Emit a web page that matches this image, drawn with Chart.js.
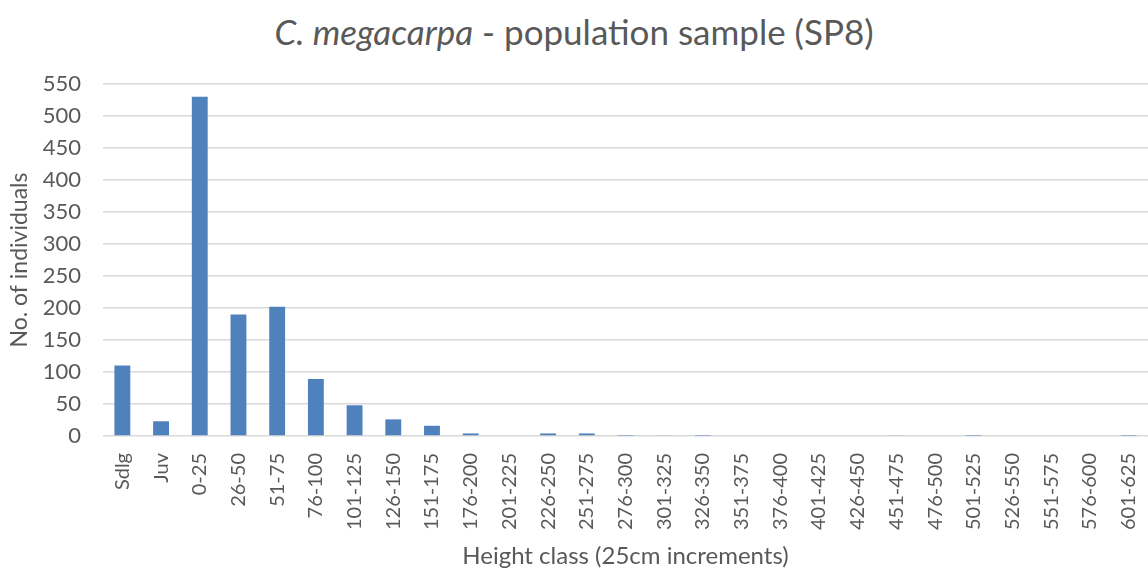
<!DOCTYPE html>
<html>
<head>
<meta charset="utf-8">
<script src="https://cdn.jsdelivr.net/npm/chart.js@4"></script>
<style>
    html, body { margin: 0; padding: 0; background: #fff; }
    #wrap { position: relative; width: 1148px; height: 569px; }
    #title {
        position: absolute; left: 0; top: 10px; width: 1148px; line-height: 42px;
        text-align: center; font-family: Lato, sans-serif; font-size: 35px; color: #595959;
    }
    canvas { position: absolute; left: 0; top: 0; }
</style>
</head>
<body>
<div id="wrap">
    <div id="title"><i>C. megacarpa</i> - population sample (SP8)</div>
    <canvas id="popChart" width="1148" height="569"></canvas>
</div>
<script>
const heightClasses = ['Sdlg', 'Juv', '0-25', '26-50', '51-75', '76-100', '101-125', '126-150',
    '151-175', '176-200', '201-225', '226-250', '251-275', '276-300', '301-325', '326-350',
    '351-375', '376-400', '401-425', '426-450', '451-475', '476-500', '501-525', '526-550',
    '551-575', '576-600', '601-625'];
const individuals = [110, 23, 530, 190, 202, 89, 48, 26,
    16, 4, 0, 4, 4, 0.5, 1, 0.5,
    0, 0, 0, 0, 1, 0, 0.5, 0,
    0, 0, 0.5];
const yTicks = [0, 50, 100, 150, 200, 250, 300, 350, 400, 450, 500, 550];

const textColor = '#595959';
const gridColor = '#d9d9d9';

const ctx = document.getElementById('popChart').getContext('2d');
new Chart(ctx, {
    type: 'bar',
    data: {
        labels: heightClasses,
        datasets: [{
            label: 'No. of individuals',
            data: individuals,
            backgroundColor: '#4f81bd',
            categoryPercentage: 1,
            barPercentage: 0.41
        }]
    },
    options: {
        responsive: false,
        animation: false,
        layout: {
            padding: { top: 84, right: 0, left: 0, bottom: 0 }
        },
        plugins: {
            legend: { display: false },
            tooltip: { enabled: false }
        },
        scales: {
            x: {
                afterFit: axis => {
                    axis.height = 133;
                    axis.paddingLeft = 0;
                    axis.paddingRight = 0;
                },
                grid: { display: false },
                border: { display: false },
                ticks: {
                    color: textColor,
                    font: { family: 'Lato', size: 20 },
                    minRotation: 90,
                    maxRotation: 90,
                    autoSkip: false,
                    padding: 9
                },
                title: {
                    display: true,
                    text: 'Height class (25cm increments)',
                    color: textColor,
                    font: { family: 'Lato', size: 24, lineHeight: 1 },
                    padding: { top: 0, bottom: 1 }
                }
            },
            y: {
                min: 0,
                max: 550,
                afterBuildTicks: axis => {
                    axis.ticks = yTicks.map(v => ({ value: v }));
                },
                afterFit: axis => {
                    axis.width = 103;
                },
                grid: { color: gridColor, lineWidth: 1.5, drawTicks: false },
                border: { display: false },
                ticks: {
                    color: textColor,
                    font: { family: 'Lato', size: 22 },
                    padding: 22
                },
                title: {
                    display: true,
                    text: 'No. of individuals',
                    color: textColor,
                    font: { family: 'Lato', size: 23 },
                    padding: { top: 6, bottom: 0 }
                }
            }
        }
    }
});
</script>
</body>
</html>
